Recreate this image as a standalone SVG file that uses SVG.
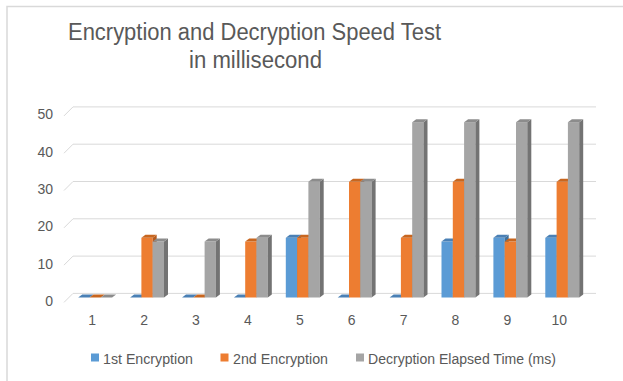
<svg xmlns="http://www.w3.org/2000/svg" xmlns:xlink="http://www.w3.org/1999/xlink" width="623" height="381" viewBox="0 0 623 381">
<style>
text{font-family:"Liberation Sans","DejaVu Sans",sans-serif;fill:#595959}
.t{font-size:23px}
.ax{font-size:14px}
.lg{font-size:14px}
.grid{fill:none;stroke:#D9D9D9;stroke-width:1}
.bf{fill:#5B9BD5}.bs{fill:#41719C}.bt{fill:#4A80B5}
.of{fill:#ED7D31}.os{fill:#B35A1F}.ot{fill:#C8661F}
.gf{fill:#A5A5A5}.gs{fill:#737373}.gt{fill:#8C8C8C}
</style>
<defs>
<polygon id="tp" points="0,0 4,-3 15.3,-3 11.3,0"/>
<rect id="f15" x="0" y="0" width="11.3" height="55.95"/>
<rect id="f16" x="0" y="0" width="11.3" height="59.68"/>
<rect id="f31" x="0" y="0" width="11.3" height="115.63"/>
<rect id="f47" x="0" y="0" width="11.3" height="175.31"/>
<polygon id="s15" points="11.3,0 15.3,-3 15.3,52.95 11.3,55.95"/>
<polygon id="s16" points="11.3,0 15.3,-3 15.3,56.68 11.3,59.68"/>
<polygon id="s31" points="11.3,0 15.3,-3 15.3,112.63 11.3,115.63"/>
<polygon id="s47" points="11.3,0 15.3,-3 15.3,172.31 11.3,175.31"/>
</defs>
<rect x="0" y="0" width="623" height="381" fill="#FFFFFF"/>
<path d="M7 381 V6.5 H623" fill="none" stroke="#D9D9D9" stroke-width="1.5"/>
<g id="title">
<text class="t" x="68" y="40" textLength="373" lengthAdjust="spacingAndGlyphs">Encryption and Decryption Speed Test</text>
<text class="t" x="189" y="68" textLength="133" lengthAdjust="spacingAndGlyphs">in millisecond</text>
</g>
<g id="gridlines">
<path class="grid" d="M64 115.9 L73 106.9 H596"/>
<path class="grid" d="M64 153.2 L73 144.2 H596"/>
<path class="grid" d="M64 190.5 L73 181.5 H596"/>
<path class="grid" d="M64 227.8 L73 218.8 H596"/>
<path class="grid" d="M64 265.1 L73 256.1 H596"/>
<path class="grid" d="M64 302.4 L73 293.4 H596"/>
</g>
<g id="y-axis" text-anchor="end">
<text class="ax" x="53" y="119.4">50</text>
<text class="ax" x="53" y="156.7">40</text>
<text class="ax" x="53" y="194">30</text>
<text class="ax" x="53" y="231.3">20</text>
<text class="ax" x="53" y="268.6">10</text>
<text class="ax" x="53" y="305.9">0</text>
</g>
<g id="x-axis" text-anchor="middle">
<text class="ax" x="92.2" y="325">1</text>
<text class="ax" x="144.1" y="325">2</text>
<text class="ax" x="196" y="325">3</text>
<text class="ax" x="247.9" y="325">4</text>
<text class="ax" x="299.8" y="325">5</text>
<text class="ax" x="351.7" y="325">6</text>
<text class="ax" x="403.6" y="325">7</text>
<text class="ax" x="455.5" y="325">8</text>
<text class="ax" x="507.4" y="325">9</text>
<text class="ax" x="559.3" y="325">10</text>
</g>
<g id="bars">
<g id="cat1">
<use xlink:href="#tp" class="bt" transform="translate(78.2,297.5)"/>
<use xlink:href="#tp" class="ot" transform="translate(89.5,297.5)"/>
<use xlink:href="#tp" class="gt" transform="translate(100.8,297.5)"/>
</g>
<g id="cat2">
<use xlink:href="#tp" class="bt" transform="translate(130.1,297.5)"/>
<g transform="translate(141.4,237.82)"><use xlink:href="#f16" class="of"/><use xlink:href="#s16" class="os"/><use xlink:href="#tp" class="ot"/></g>
<g transform="translate(152.7,241.55)"><use xlink:href="#f15" class="gf"/><use xlink:href="#s15" class="gs"/><use xlink:href="#tp" class="gt"/></g>
</g>
<g id="cat3">
<use xlink:href="#tp" class="bt" transform="translate(182,297.5)"/>
<use xlink:href="#tp" class="ot" transform="translate(193.3,297.5)"/>
<g transform="translate(204.6,241.55)"><use xlink:href="#f15" class="gf"/><use xlink:href="#s15" class="gs"/><use xlink:href="#tp" class="gt"/></g>
</g>
<g id="cat4">
<use xlink:href="#tp" class="bt" transform="translate(233.9,297.5)"/>
<g transform="translate(245.2,241.55)"><use xlink:href="#f15" class="of"/><use xlink:href="#s15" class="os"/><use xlink:href="#tp" class="ot"/></g>
<g transform="translate(256.5,237.82)"><use xlink:href="#f16" class="gf"/><use xlink:href="#s16" class="gs"/><use xlink:href="#tp" class="gt"/></g>
</g>
<g id="cat5">
<g transform="translate(285.8,237.82)"><use xlink:href="#f16" class="bf"/><use xlink:href="#s16" class="bs"/><use xlink:href="#tp" class="bt"/></g>
<g transform="translate(297.1,237.82)"><use xlink:href="#f16" class="of"/><use xlink:href="#s16" class="os"/><use xlink:href="#tp" class="ot"/></g>
<g transform="translate(308.4,181.87)"><use xlink:href="#f31" class="gf"/><use xlink:href="#s31" class="gs"/><use xlink:href="#tp" class="gt"/></g>
</g>
<g id="cat6">
<use xlink:href="#tp" class="bt" transform="translate(337.7,297.5)"/>
<g transform="translate(349,181.87)"><use xlink:href="#f31" class="of"/><use xlink:href="#s31" class="os"/><use xlink:href="#tp" class="ot"/></g>
<g transform="translate(360.3,181.87)"><use xlink:href="#f31" class="gf"/><use xlink:href="#s31" class="gs"/><use xlink:href="#tp" class="gt"/></g>
</g>
<g id="cat7">
<use xlink:href="#tp" class="bt" transform="translate(389.6,297.5)"/>
<g transform="translate(400.9,237.82)"><use xlink:href="#f16" class="of"/><use xlink:href="#s16" class="os"/><use xlink:href="#tp" class="ot"/></g>
<g transform="translate(412.2,122.19)"><use xlink:href="#f47" class="gf"/><use xlink:href="#s47" class="gs"/><use xlink:href="#tp" class="gt"/></g>
</g>
<g id="cat8">
<g transform="translate(441.5,241.55)"><use xlink:href="#f15" class="bf"/><use xlink:href="#s15" class="bs"/><use xlink:href="#tp" class="bt"/></g>
<g transform="translate(452.8,181.87)"><use xlink:href="#f31" class="of"/><use xlink:href="#s31" class="os"/><use xlink:href="#tp" class="ot"/></g>
<g transform="translate(464.1,122.19)"><use xlink:href="#f47" class="gf"/><use xlink:href="#s47" class="gs"/><use xlink:href="#tp" class="gt"/></g>
</g>
<g id="cat9">
<g transform="translate(493.4,237.82)"><use xlink:href="#f16" class="bf"/><use xlink:href="#s16" class="bs"/><use xlink:href="#tp" class="bt"/></g>
<g transform="translate(504.7,241.55)"><use xlink:href="#f15" class="of"/><use xlink:href="#s15" class="os"/><use xlink:href="#tp" class="ot"/></g>
<g transform="translate(516,122.19)"><use xlink:href="#f47" class="gf"/><use xlink:href="#s47" class="gs"/><use xlink:href="#tp" class="gt"/></g>
</g>
<g id="cat10">
<g transform="translate(545.3,237.82)"><use xlink:href="#f16" class="bf"/><use xlink:href="#s16" class="bs"/><use xlink:href="#tp" class="bt"/></g>
<g transform="translate(556.6,181.87)"><use xlink:href="#f31" class="of"/><use xlink:href="#s31" class="os"/><use xlink:href="#tp" class="ot"/></g>
<g transform="translate(567.9,122.19)"><use xlink:href="#f47" class="gf"/><use xlink:href="#s47" class="gs"/><use xlink:href="#tp" class="gt"/></g>
</g>
</g>
<g id="legend">
<rect class="bf" x="91" y="353.5" width="8" height="8"/>
<text class="lg" x="103" y="364" textLength="90" lengthAdjust="spacingAndGlyphs">1st Encryption</text>
<rect class="of" x="220.5" y="353.5" width="8" height="8"/>
<text class="lg" x="233" y="364" textLength="95" lengthAdjust="spacingAndGlyphs">2nd Encryption</text>
<rect class="gf" x="356" y="353.5" width="8" height="8"/>
<text class="lg" x="368" y="364" textLength="188" lengthAdjust="spacingAndGlyphs">Decryption Elapsed Time (ms)</text>
</g>
</svg>
